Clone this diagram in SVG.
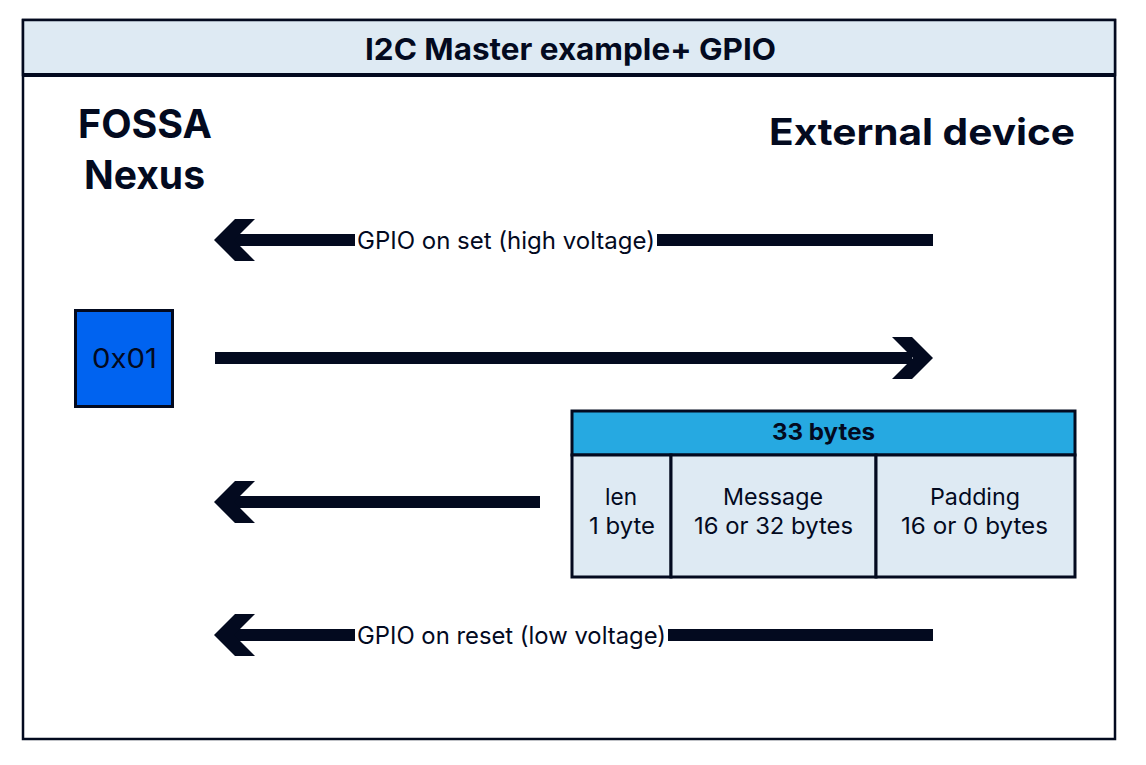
<svg xmlns="http://www.w3.org/2000/svg" width="1146" height="765" viewBox="0 0 1146 765">
<style>
.t{font-family:Inter,"Noto Sans",sans-serif;fill:#030a1f}
.b{font-weight:bold}
.ln{stroke:#030a1f;stroke-width:12;fill:none}
.hd{fill:#030a1f}
.cell{fill:#deeaf3;stroke:#030a1f;stroke-width:3}
.c{font-size:23px;text-anchor:middle}
</style>
<rect width="1146" height="765" fill="#fff"/>
<g id="frame">
<rect x="23" y="20" width="1092" height="719" fill="#fff" stroke="#030a1f" stroke-width="2.5"/>
<rect x="23" y="20" width="1092" height="55" fill="#deeaf3" stroke="#030a1f" stroke-width="2.5"/>
<line x1="23" y1="75" x2="1115" y2="75" stroke="#030a1f" stroke-width="4"/>
<text class="t b" x="365" y="60" font-size="30" textLength="411" lengthAdjust="spacingAndGlyphs">I2C Master example+ GPIO</text>
</g>
<g id="fossa">
<text class="t b" x="78" y="138" font-size="40" textLength="134" lengthAdjust="spacingAndGlyphs">FOSSA</text>
<text class="t b" x="84" y="189" font-size="40" textLength="121" lengthAdjust="spacingAndGlyphs">Nexus</text>
</g>
<g id="external">
<text class="t b" x="769" y="145" font-size="37" textLength="306" lengthAdjust="spacingAndGlyphs">External device</text>
</g>
<g id="addr">
<rect x="75.5" y="310.5" width="97" height="96" fill="#0063f0" stroke="#030a1f" stroke-width="3"/>
<text class="t" x="92" y="368" font-size="27" textLength="65" lengthAdjust="spacingAndGlyphs">0x01</text>
</g>
<g id="packet">
<rect x="572" y="411" width="503" height="44" fill="#26a9e1" stroke="#030a1f" stroke-width="3"/>
<text class="t b" x="772" y="440" font-size="23" textLength="103" lengthAdjust="spacingAndGlyphs">33 bytes</text>
<rect class="cell" x="572" y="455" width="99" height="122"/>
<rect class="cell" x="671" y="455" width="205" height="122"/>
<rect class="cell" x="876" y="455" width="199" height="122"/>
<text class="t" x="605" y="505" font-size="23" textLength="32" lengthAdjust="spacingAndGlyphs">len</text>
<text class="t" x="589" y="534" font-size="23" textLength="66" lengthAdjust="spacingAndGlyphs">1 byte</text>
<text class="t" x="723" y="505" font-size="23" textLength="100" lengthAdjust="spacingAndGlyphs">Message</text>
<text class="t" x="694" y="534" font-size="23" textLength="159" lengthAdjust="spacingAndGlyphs">16 or 32 bytes</text>
<text class="t" x="930" y="505" font-size="23" textLength="90" lengthAdjust="spacingAndGlyphs">Padding</text>
<text class="t" x="901" y="534" font-size="23" textLength="147" lengthAdjust="spacingAndGlyphs">16 or 0 bytes</text>
</g>
<g id="connectors">
<line class="ln" x1="233" y1="240" x2="933" y2="240"/>
<polygon class="hd" points="235,219 255,219 234,240 255,261 235,261 214,240"/>
<rect x="355" y="226" width="302" height="30" fill="#fff"/>
<text class="t" x="357" y="249" font-size="24" textLength="298" lengthAdjust="spacingAndGlyphs">GPIO on set (high voltage)</text>
<line class="ln" x1="215" y1="358" x2="912" y2="358"/>
<polygon class="hd" points="912,337 892,337 913,358 892,379 912,379 933,358"/>
<line class="ln" x1="233" y1="502" x2="540" y2="502"/>
<polygon class="hd" points="235,481 255,481 234,502 255,523 235,523 214,502"/>
<line class="ln" x1="233" y1="635" x2="933" y2="635"/>
<polygon class="hd" points="235,614 255,614 234,635 255,656 235,656 214,635"/>
<rect x="355" y="621" width="313" height="30" fill="#fff"/>
<text class="t" x="357" y="644" font-size="24" textLength="309" lengthAdjust="spacingAndGlyphs">GPIO on reset (low voltage)</text>
</g>
</svg>
